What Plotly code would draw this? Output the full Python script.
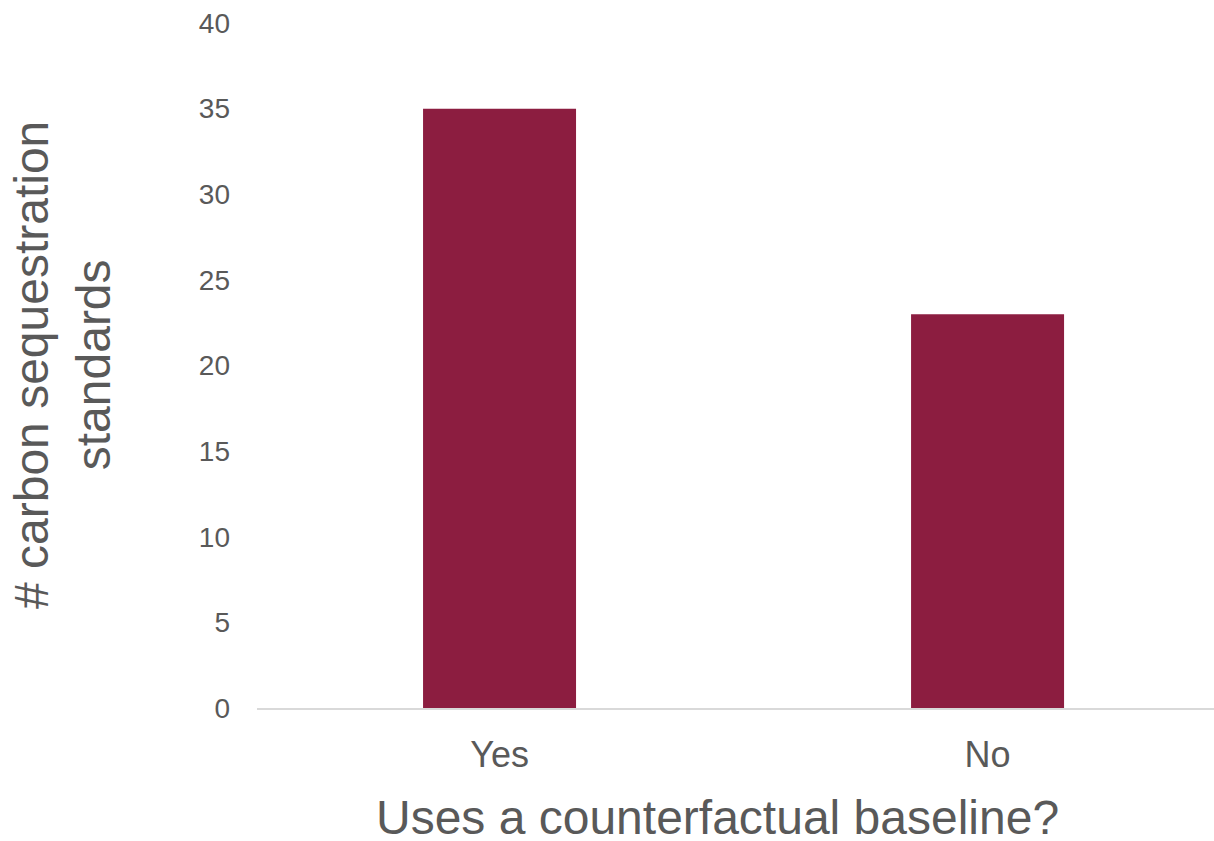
import plotly.graph_objects as go

# Standards grouped by whether they use a counterfactual baseline
categories = ["Yes", "No"]
counts = [35, 23]

y_ticks = [0, 5, 10, 15, 20, 25, 30, 35, 40]

GREY = "#595959"
BAR = "#8C1D40"
FONT = "Liberation Sans, Arial, sans-serif"

fig = go.Figure(
    go.Bar(
        x=categories,
        y=counts,
        marker=dict(color=BAR, line=dict(width=0)),
        width=0.3135,
    )
)

fig.update_layout(
    width=1214,
    height=841,
    margin=dict(l=257, r=0, t=23, b=133),
    paper_bgcolor="white",
    plot_bgcolor="white",
    showlegend=False,
    font=dict(family=FONT, color=GREY),
    xaxis=dict(
        type="category",
        range=[-0.497, 1.464],
        showgrid=False,
        showline=True,
        linecolor="#D9D9D9",
        linewidth=2,
        ticks="",
        tickfont=dict(size=36, color=GREY, family=FONT),
        ticklabelstandoff=14,
    ),
    yaxis=dict(
        range=[0, 40],
        tickvals=y_ticks,
        showgrid=False,
        zeroline=False,
        showline=False,
        ticks="",
        tickfont=dict(size=28, color=GREY, family=FONT),
        ticklabelstandoff=26,
    ),
    annotations=[
        dict(
            text="Uses a counterfactual baseline?",
            xref="paper", yref="paper",
            x=(717.5 - 257) / (1214 - 257), y=-0.118,
            xanchor="center", yanchor="top",
            showarrow=False,
            font=dict(size=48, color=GREY, family=FONT),
        ),
        dict(
            text="# carbon sequestration<br>standards",
            xref="paper", yref="paper",
            x=(62.5 - 257) / (1214 - 257), y=0.5,
            xanchor="center", yanchor="middle",
            textangle=-90,
            showarrow=False,
            font=dict(size=48, color=GREY, family=FONT),
        ),
    ],
)

fig.write_html("out.html")
